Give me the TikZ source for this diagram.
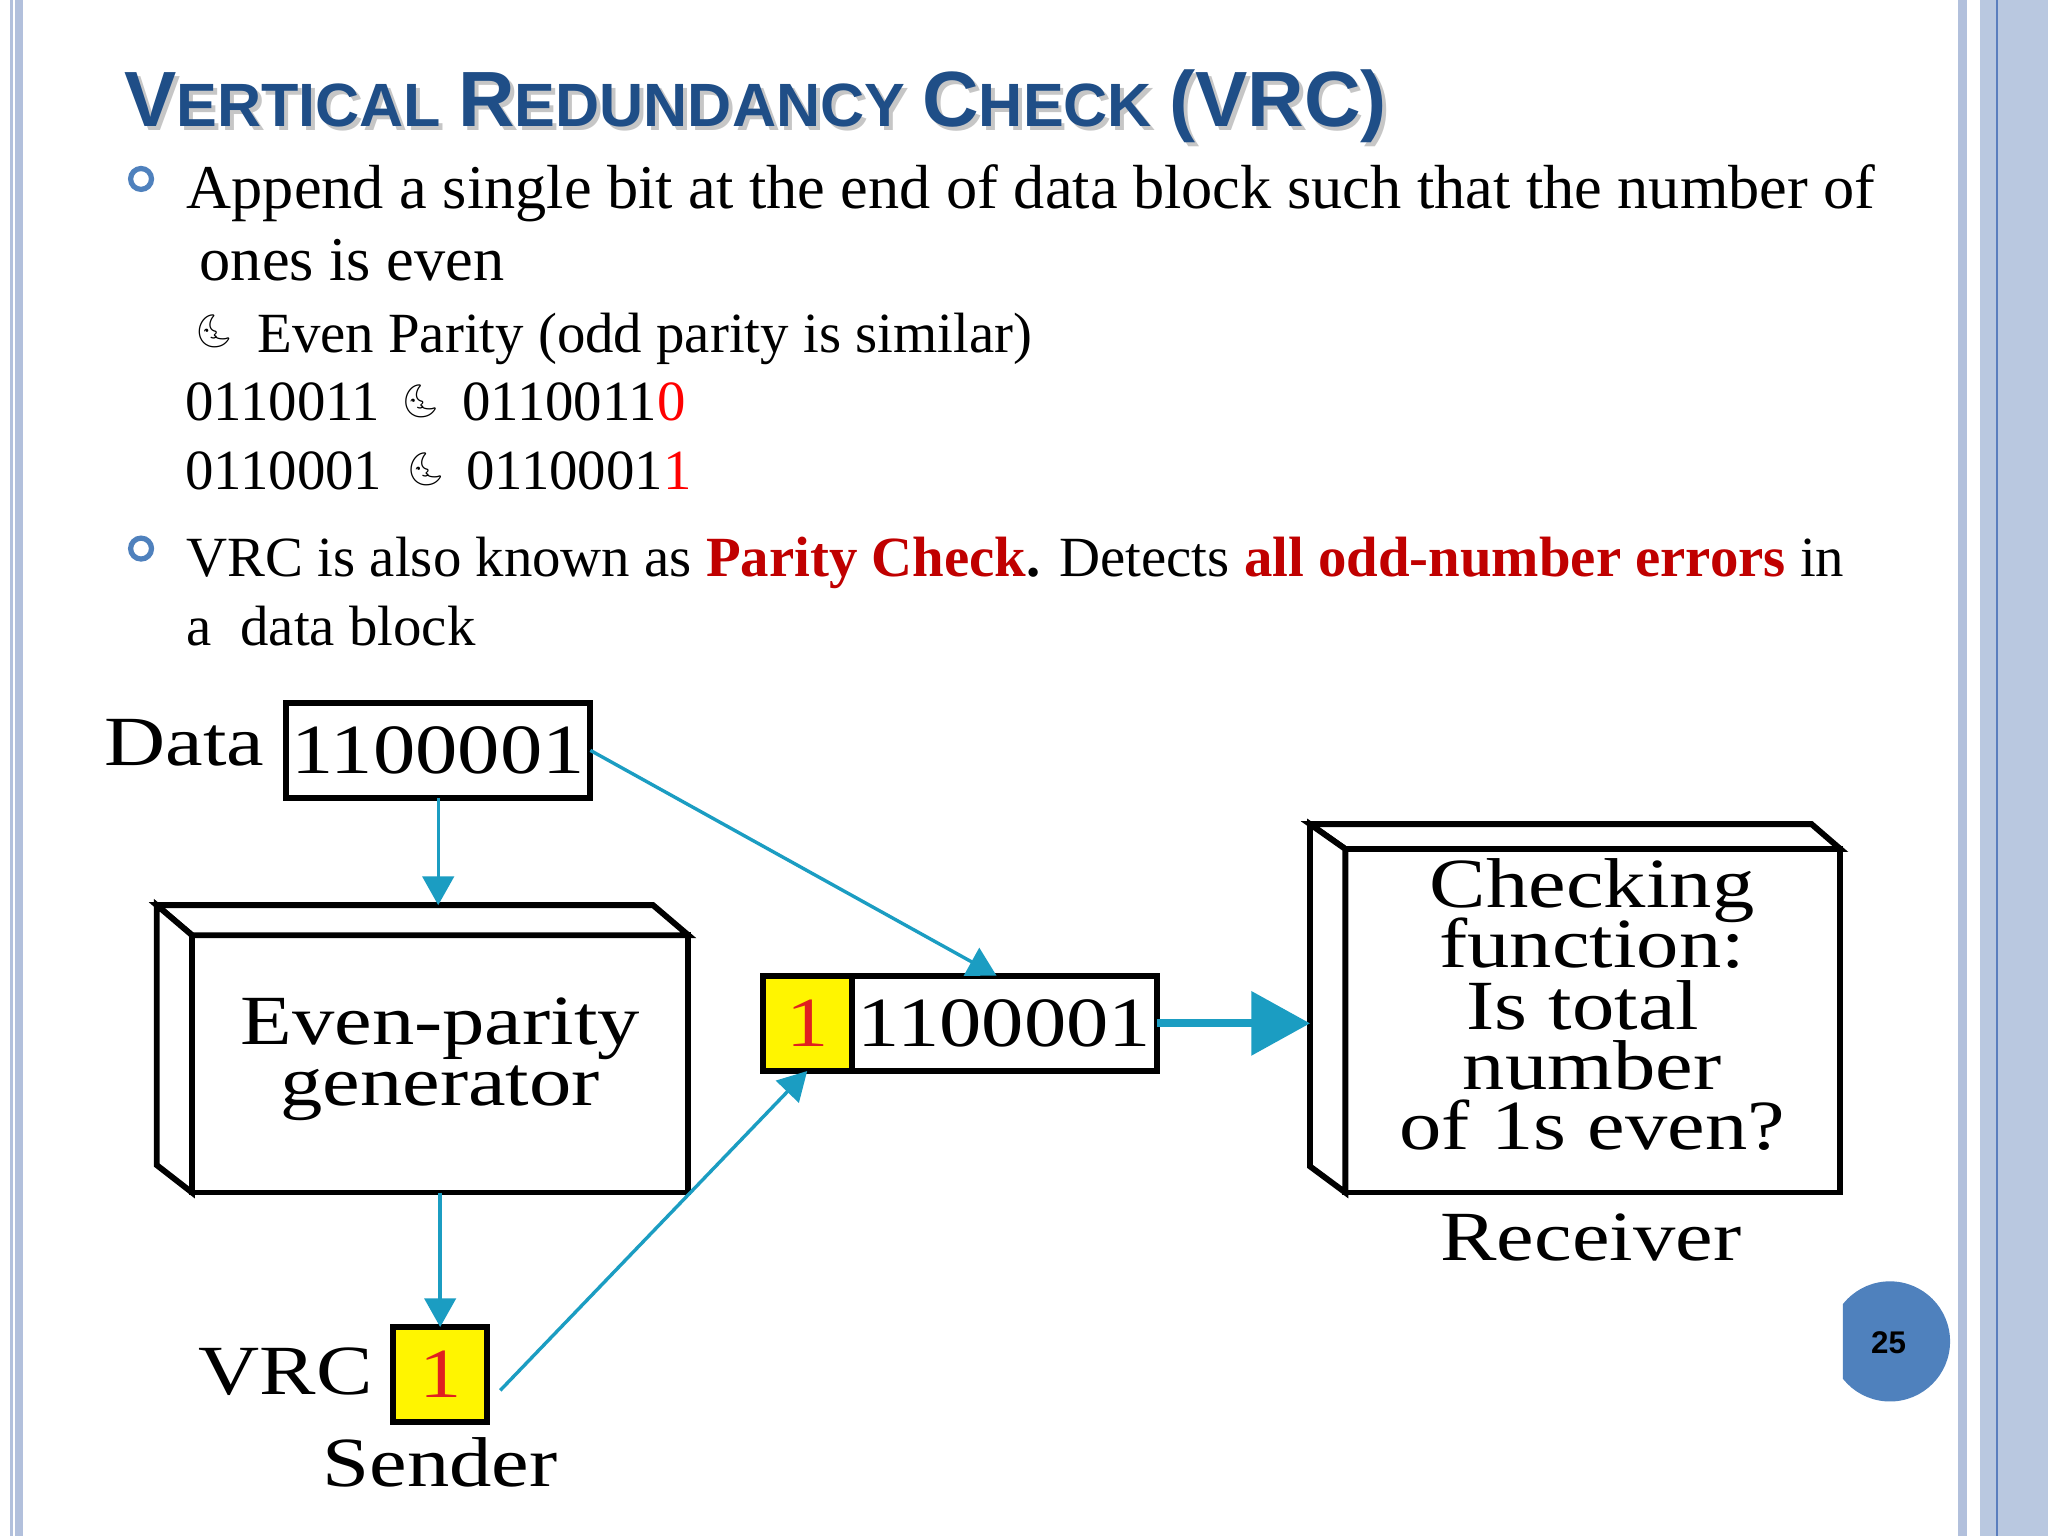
\documentclass[tikz,border=0pt]{standalone}
\usepackage{fontspec}
\setmainfont{Liberation Serif}
\newfontfamily\titlefont{Liberation Sans}
\newfontfamily\figfont{Liberation Serif}[FakeStretch=1.2]
\newfontfamily\emojifont{Noto Emoji}
\usetikzlibrary{arrows.meta,calc}
\definecolor{titleblue}{HTML}{1F4E87}
\definecolor{accent}{HTML}{4F81BD}
\definecolor{linkc}{HTML}{1B9DC2}
\definecolor{hotred}{HTML}{C00000}
\definecolor{bitred}{HTML}{E02020}
\definecolor{cellyellow}{HTML}{FFF500}
\definecolor{bandA}{HTML}{B2C0DC}
\definecolor{bandB}{HTML}{B9C8E0}
\definecolor{bandline}{HTML}{5A7EBE}
\newcommand\tbig{\fontsize{60}{60}\selectfont}
\newcommand\tsmall{\fontsize{46.8}{60}\selectfont}
\newcommand\titletext{\titlefont\bfseries\tbig V\tsmall ERTICAL \tbig R\tsmall EDUNDANCY \tbig C\tsmall HECK \tbig (VRC)}
\newcommand\moon{{\emojifont\fontsize{25}{25}\selectfont 🌜}}
\begin{document}
\begin{tikzpicture}[x=1pt,y=-1pt,
  txt/.style={inner sep=0pt, outer sep=0pt, anchor=base west},
  bodyL/.style={txt, font=\fontsize{47.7}{56}\selectfont},
  bodyS/.style={txt, font=\fontsize{43.5}{52}\selectfont},
  fig/.style={inner sep=0pt, outer sep=0pt, font=\figfont\fontsize{54}{46}\selectfont},
  box/.style={draw, line width=4.5pt, line join=miter, inner sep=0pt, outer sep=0pt, fig},
  side/.style={draw, fill=white, line width=4.5pt, line join=miter},
  conn/.style={draw=linkc, line width=2.6pt, -{Triangle[length=22pt,width=24pt]}},
  bigconn/.style={draw=linkc, line width=6pt, -{Triangle[length=45pt,width=48pt]}},
  ring/.style={draw=accent, line width=4pt}]
\useasboundingbox (0,0) rectangle (1568,1176);
\fill[white] (0,0) rectangle (1568,1176);
% frame bands
\fill[bandA] (7.7,0) rectangle (9.7,1176);
\fill[bandA] (11.5,0) rectangle (17.5,1176);
\fill[bandA] (1499,0) rectangle (1506,1176);
\fill[bandB] (1516,0) rectangle (1568,1176);
\draw[bandline, line width=1.5pt] (1529,0) -- (1529,1176);
% title
\node[txt, text=gray!45] (titleshadow) at (98,100) {\titletext};
\node[txt, text=titleblue] (title) at (95,97) {\titletext};
% bullets
\draw[ring] (108,137) circle (8);
\draw[ring] (108,420) circle (8);
\node[bodyL] (l1) at (143,160) {Append a single bit at the end of data block such that the number of};
\node[bodyL] (l2) at (153,215) {ones is even};
\node[inner sep=0pt] (m1) at (164,254) {\moon};
\node[bodyS] (l3) at (197,270) {Even Parity (odd parity is similar)};
\node[bodyS] (l4a) at (142,322) {0110011};
\node[inner sep=0pt] (m2) at (322,307) {\moon};
\node[bodyS] (l4b) at (354,322) {0110011{\color{red}0}};
\node[bodyS] (l5a) at (142,375) {0110001};
\node[inner sep=0pt] (m3) at (326,359) {\moon};
\node[bodyS] (l5b) at (357,375) {0110001{\color{red}1}};
\node[bodyS] (l6) at (143,441) {VRC is also known as {\bfseries\color{hotred}Parity Check}{\bfseries .} Detects {\bfseries\color{hotred}all odd-number errors} in};
\node[bodyS] (l7) at (143,494) {a\ \ data block};
% diagram
\node[box, minimum width=233pt, minimum height=73pt] (data) at (335.5,574.5) {1100001};
\node[txt, fig] (datalbl) at (80,586) {Data};
% generator
\node[box, minimum width=380pt, minimum height=197pt] (gen) at (337,814.5) {};
\draw[side] (gen.north west) -- ++(-27,-23) -- ($(gen.north east)+(-27,-23)$) -- (gen.north east) -- cycle;
\draw[side] (gen.north west) -- ++(-27,-23) -- ($(gen.south west)+(-27,-21)$) -- (gen.south west) -- cycle;
\node[fig, anchor=base] (gen1) at (337,800) {Even-parity};
\node[fig, anchor=base] (gen2) at (337,846) {generator};
\coordinate (gentop) at (335.5,693);
% codeword
\node[box, fill=cellyellow, minimum width=68pt, minimum height=73pt] (bit) at (618,783.5) {\color{bitred}1};
\node[box, minimum width=234pt, minimum height=73pt, anchor=west] (code) at (bit.east) {1100001};
% checker
\node[box, minimum width=379pt, minimum height=263pt] (chk) at (1219.5,781.5) {};
\draw[side] (chk.north west) -- ++(-27,-19) -- ($(chk.north east)+(-22,-19)$) -- (chk.north east) -- cycle;
\draw[side] (chk.north west) -- ++(-27,-19) -- ($(chk.south west)+(-27,-20)$) -- (chk.south west) -- cycle;
\node[fig, anchor=base] (c1) at (1219,695) {Checking};
\node[fig, anchor=base] (c2) at (1219,741) {function:};
\node[fig, anchor=base] (c3) at (1212,788) {Is total};
\node[fig, anchor=base] (c4) at (1219,834) {number};
\node[fig, anchor=base] (c5) at (1219,880) {of 1s even?};
\node[fig, anchor=base] (recv) at (1218,965) {Receiver};
\coordinate (chkleft) at (1003,783.5);
% sender
\node[box, fill=cellyellow, minimum width=72pt, minimum height=73pt] (vrc) at (337,1052.5) {\color{bitred}1};
\node[txt, fig] (vrclbl) at (152,1068) {VRC};
\node[fig, anchor=base] (sender) at (337,1138) {Sender};
% connectors
\draw[conn] (data.south) -- (gentop);
\draw[conn] (data.east) -- ([xshift=-6pt]code.north);
\draw[conn] (gen.south) -- (vrc.north);
\draw[conn] ([xshift=10pt,yshift=-12pt]vrc.east) -- (bit.south);
\draw[bigconn] (code.east) -- (chkleft);
% page number
\begin{scope}
\clip (1411,970) rectangle (1500,1090);
\fill[accent] (1447,1027) circle (46);
\end{scope}
\node[inner sep=0pt, font=\titlefont\bfseries\fontsize{24}{24}\selectfont] (pg) at (1446,1028) {25};
\end{tikzpicture}
\end{document}
